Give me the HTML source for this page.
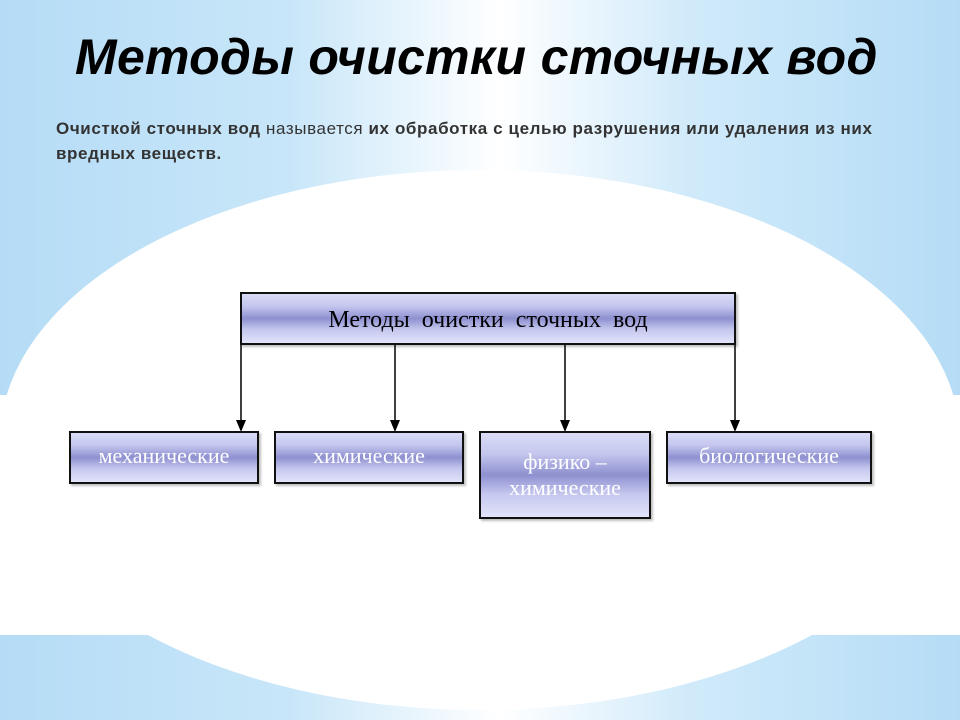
<!DOCTYPE html>
<html><head><meta charset="utf-8"><style>
body{margin:0;width:960px;height:720px;overflow:hidden;position:relative;background:#b5dcf6;font-family:"Liberation Sans",sans-serif}
.g{position:absolute;left:0;top:0;width:960px;height:720px;background:linear-gradient(90deg,#b5dcf6 0%,#c8e6f9 30%,#ffffff 52%,#d0eafa 72%,#b5dcf6 100%)}
.box{position:absolute;border:2px solid #111;box-sizing:border-box;background:linear-gradient(180deg,#dadcf6 0%,#c4c6ee 25%,#8e90d0 50%,#c4c6ee 72%,#e2e4fa 100%);font-family:"Liberation Serif",serif;text-align:center;color:#fff;font-size:22px;box-shadow:2px 2px 2px rgba(0,0,0,.25)}
h1{position:absolute;left:75px;top:28px;margin:0;font-size:50px;font-style:italic;font-weight:bold;color:#000;letter-spacing:0.3px}
p{position:absolute;left:56px;top:116px;margin:0;font-size:17px;letter-spacing:0.6px;line-height:25px;color:#333;font-weight:bold;width:865px}
</style></head><body>
<div class="g"></div>
<svg width="960" height="720" style="position:absolute;left:0;top:0">
<ellipse cx="480" cy="440" rx="480" ry="270" fill="#fff"/>
<rect x="0" y="395" width="960" height="240" fill="#fff"/>
<g stroke="#000" stroke-width="1.5">
<line x1="241" y1="344" x2="241" y2="422"/><line x1="395" y1="344" x2="395" y2="422"/>
<line x1="565" y1="344" x2="565" y2="422"/><line x1="735" y1="344" x2="735" y2="422"/></g>
<g fill="#000"><polygon points="236,420 246,420 241,432"/><polygon points="390,420 400,420 395,432"/><polygon points="560,420 570,420 565,432"/><polygon points="730,420 740,420 735,432"/></g>
</svg>
<h1>Методы очистки сточных вод</h1>
<p>Очисткой сточных вод <span style="font-weight:normal">называется</span> их обработка с целью разрушения или удаления из них вредных веществ.</p>
<div class="box" style="left:240px;top:292px;width:496px;height:53px;color:#000;font-size:24px;line-height:52px;word-spacing:6px">Методы очистки сточных вод</div>
<div class="box" style="left:69px;top:431px;width:190px;height:53px;line-height:46px">механические</div>
<div class="box" style="left:274px;top:431px;width:190px;height:53px;line-height:46px">химические</div>
<div class="box" style="left:479px;top:431px;width:172px;height:88px;line-height:26px;padding-top:16px">физико –<br>химические</div>
<div class="box" style="left:666px;top:431px;width:206px;height:53px;line-height:46px">биологические</div>
</body></html>
